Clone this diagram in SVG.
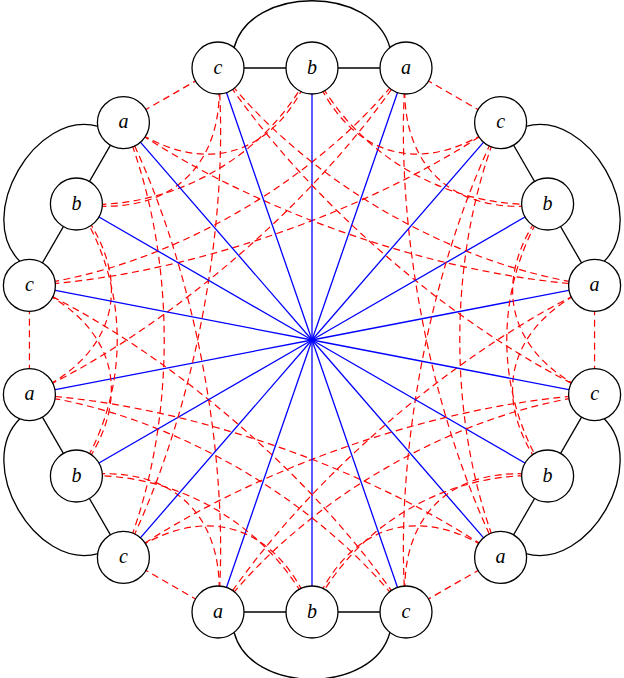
<svg xmlns="http://www.w3.org/2000/svg" xmlns:xlink="http://www.w3.org/1999/xlink" width="624" height="678" viewBox="0 0 624 678">
<style>
.r{fill:none;stroke:#ff0000;stroke-width:1.2;stroke-dasharray:7 4.5}
.bl{stroke:#0000ff;stroke-width:1.3}
.k{fill:none;stroke:#000;stroke-width:1.3}
.n circle{fill:#fff;stroke:#000;stroke-width:1.3}
.n text{font-family:"Liberation Serif",serif;font-style:italic;font-size:20px;text-anchor:middle;dominant-baseline:central;fill:#000}
</style>
<defs>
<g id="sector">
<path class="r" d="M123.4,122.6 C201.3,179.8 276.7,158 312,68"/>
<path class="r" d="M76.4,204 C171.9,218.4 228.5,164 218,68"/>
<path class="r" d="M76.4,204 C174.3,210.3 268.5,155.9 312,68"/>
<path class="r" d="M29.4,285.4 C169.6,267.3 320.2,180.3 406,68"/>
<path class="r" d="M29.4,285.4 C184.6,276.7 373,211.5 500.6,122.6"/>
<path class="r" d="M123.4,122.6 C251,211.5 439.4,276.7 594.6,285.4"/>
<line class="r" x1="123.4" y1="122.6" x2="218" y2="68"/>
<line class="bl" x1="312" y1="340" x2="218" y2="68"/>
<line class="bl" x1="312" y1="340" x2="312" y2="68"/>
<line class="bl" x1="312" y1="340" x2="406" y2="68"/>
<line class="k" x1="218" y1="68" x2="406" y2="68"/>
<path class="k" d="M234,48 C250,-15 374,-15 390,48"/>
</g>
</defs>
<g id="connectors">
<use xlink:href="#sector"/>
<use xlink:href="#sector" transform="rotate(60 312 340)"/>
<use xlink:href="#sector" transform="rotate(120 312 340)"/>
<use xlink:href="#sector" transform="rotate(180 312 340)"/>
<use xlink:href="#sector" transform="rotate(240 312 340)"/>
<use xlink:href="#sector" transform="rotate(300 312 340)"/>
</g>
<g id="n0" class="n"><circle cx="29.4" cy="285.4" r="26"/><text x="29.4" y="284">c</text></g>
<g id="n1" class="n"><circle cx="76.4" cy="204" r="26"/><text x="76.4" y="202.6">b</text></g>
<g id="n2" class="n"><circle cx="123.4" cy="122.6" r="26"/><text x="123.4" y="121.2">a</text></g>
<g id="n3" class="n"><circle cx="218" cy="68" r="26"/><text x="218" y="66.6">c</text></g>
<g id="n4" class="n"><circle cx="312" cy="68" r="26"/><text x="312" y="66.6">b</text></g>
<g id="n5" class="n"><circle cx="406" cy="68" r="26"/><text x="406" y="66.6">a</text></g>
<g id="n6" class="n"><circle cx="500.6" cy="122.6" r="26"/><text x="500.6" y="121.2">c</text></g>
<g id="n7" class="n"><circle cx="547.6" cy="204" r="26"/><text x="547.6" y="202.6">b</text></g>
<g id="n8" class="n"><circle cx="594.6" cy="285.4" r="26"/><text x="594.6" y="284">a</text></g>
<g id="n9" class="n"><circle cx="594.6" cy="394.6" r="26"/><text x="594.6" y="393.2">c</text></g>
<g id="n10" class="n"><circle cx="547.6" cy="476" r="26"/><text x="547.6" y="474.6">b</text></g>
<g id="n11" class="n"><circle cx="500.6" cy="557.4" r="26"/><text x="500.6" y="556">a</text></g>
<g id="n12" class="n"><circle cx="406" cy="612" r="26"/><text x="406" y="610.6">c</text></g>
<g id="n13" class="n"><circle cx="312" cy="612" r="26"/><text x="312" y="610.6">b</text></g>
<g id="n14" class="n"><circle cx="218" cy="612" r="26"/><text x="218" y="610.6">a</text></g>
<g id="n15" class="n"><circle cx="123.4" cy="557.4" r="26"/><text x="123.4" y="556">c</text></g>
<g id="n16" class="n"><circle cx="76.4" cy="476" r="26"/><text x="76.4" y="474.6">b</text></g>
<g id="n17" class="n"><circle cx="29.4" cy="394.6" r="26"/><text x="29.4" y="393.2">a</text></g>
</svg>
